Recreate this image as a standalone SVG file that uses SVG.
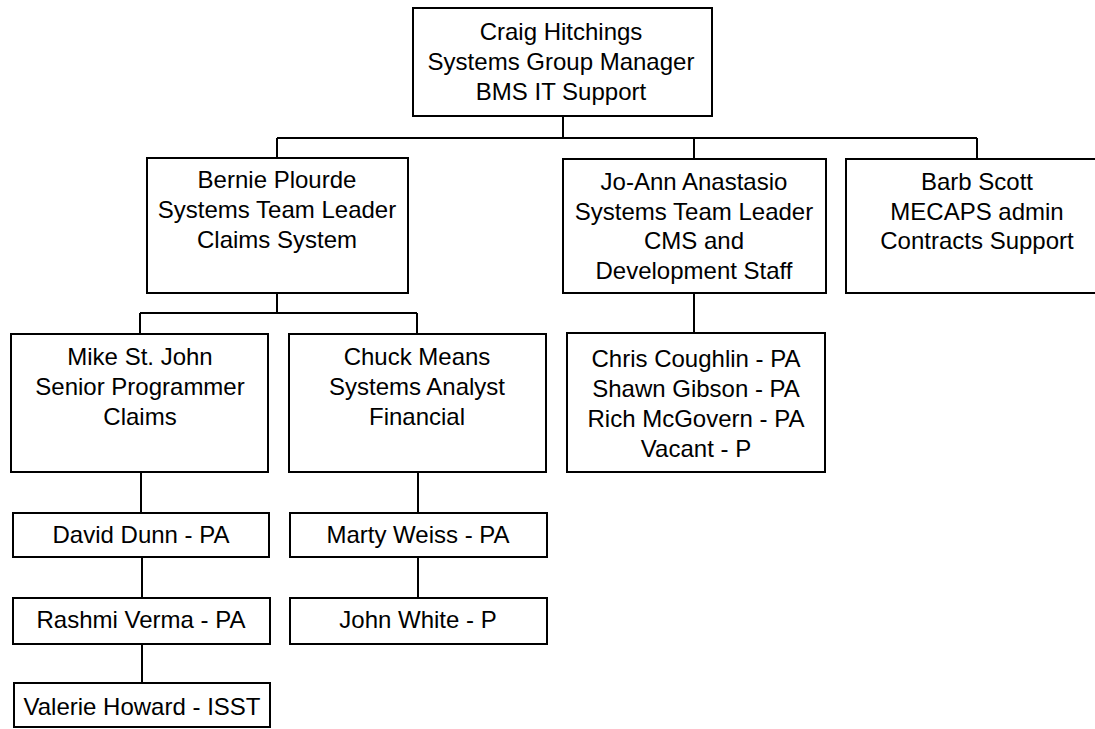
<svg xmlns="http://www.w3.org/2000/svg" width="1095" height="729" viewBox="0 0 1095 729">
  <style>
    .box { fill: #ffffff; stroke: #000000; stroke-width: 2; }
    .lbl { font-family: "Liberation Sans", Arial, sans-serif; font-size: 24px; fill: #000000; text-anchor: middle; }
    .wire { fill: none; stroke: #000000; stroke-width: 2; }
  </style>
  <rect x="0" y="0" width="1095" height="729" fill="#ffffff"/>

  <!-- reporting lines -->
  <g id="connectors">
    <path class="wire" d="M563 116 V138 M277 138 H977 M277 138 V158 M694 138 V159 M977 138 V159"/>
    <path class="wire" d="M277 293 V313 M140 313 H417 M140 313 V334 M417 313 V334"/>
    <path class="wire" d="M694 293 V333"/>
    <path class="wire" d="M141 472 V513 M142 557 V598 M142 644 V683"/>
    <path class="wire" d="M418 472 V513 M418 557 V598"/>
  </g>

  <g id="craig">
    <rect class="box" x="413" y="8" width="299" height="108"/>
    <text class="lbl" x="561" y="40">Craig Hitchings</text>
    <text class="lbl" x="561" y="70">Systems Group Manager</text>
    <text class="lbl" x="561" y="100">BMS IT Support</text>
  </g>

  <g id="bernie">
    <rect class="box" x="147" y="158" width="261" height="135"/>
    <text class="lbl" x="277" y="188">Bernie Plourde</text>
    <text class="lbl" x="277" y="218">Systems Team Leader</text>
    <text class="lbl" x="277" y="248">Claims System</text>
  </g>

  <g id="joann">
    <rect class="box" x="563" y="159" width="263" height="134"/>
    <text class="lbl" x="694" y="190">Jo-Ann Anastasio</text>
    <text class="lbl" x="694" y="219.5">Systems Team Leader</text>
    <text class="lbl" x="694" y="249">CMS and</text>
    <text class="lbl" x="694" y="278.5">Development Staff</text>
  </g>

  <g id="barb">
    <rect class="box" x="846" y="159" width="262" height="134"/>
    <text class="lbl" x="977" y="190">Barb Scott</text>
    <text class="lbl" x="977" y="220">MECAPS admin</text>
    <text class="lbl" x="977" y="249">Contracts Support</text>
  </g>

  <g id="mike">
    <rect class="box" x="11" y="334" width="257" height="138"/>
    <text class="lbl" x="140" y="365">Mike St. John</text>
    <text class="lbl" x="140" y="395">Senior Programmer</text>
    <text class="lbl" x="140" y="425">Claims</text>
  </g>

  <g id="chuck">
    <rect class="box" x="289" y="334" width="257" height="138"/>
    <text class="lbl" x="417" y="365">Chuck Means</text>
    <text class="lbl" x="417" y="395">Systems Analyst</text>
    <text class="lbl" x="417" y="425">Financial</text>
  </g>

  <g id="cms-staff">
    <rect class="box" x="567" y="333" width="258" height="139"/>
    <text class="lbl" x="696" y="367">Chris Coughlin - PA</text>
    <text class="lbl" x="696" y="397">Shawn Gibson - PA</text>
    <text class="lbl" x="696" y="427">Rich McGovern - PA</text>
    <text class="lbl" x="696" y="457">Vacant - P</text>
  </g>

  <g id="david">
    <rect class="box" x="13" y="513" width="256" height="44"/>
    <text class="lbl" x="141" y="543">David Dunn - PA</text>
  </g>

  <g id="rashmi">
    <rect class="box" x="13" y="598" width="257" height="46"/>
    <text class="lbl" x="141" y="628">Rashmi Verma - PA</text>
  </g>

  <g id="valerie">
    <rect class="box" x="14" y="683" width="256" height="44"/>
    <text class="lbl" x="142" y="715">Valerie Howard - ISST</text>
  </g>

  <g id="marty">
    <rect class="box" x="290" y="513" width="257" height="44"/>
    <text class="lbl" x="418" y="543">Marty Weiss - PA</text>
  </g>

  <g id="john">
    <rect class="box" x="290" y="598" width="257" height="46"/>
    <text class="lbl" x="418" y="628">John White - P</text>
  </g>
</svg>
